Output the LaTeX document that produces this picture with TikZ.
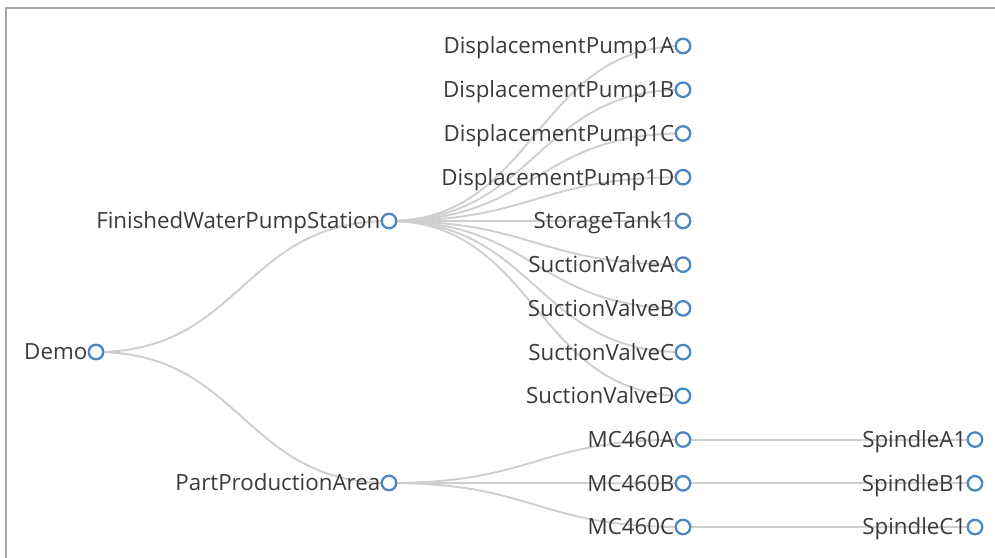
\documentclass[tikz,border=0pt]{standalone}
\usepackage{fontspec}
\setmainfont{Open Sans}
\usetikzlibrary{calc, backgrounds}
\definecolor{nodeBlue}{HTML}{4A86C0}
\definecolor{linkGray}{HTML}{CFCFCF}
\definecolor{textGray}{HTML}{3A3A3A}
\definecolor{frameGray}{HTML}{A8A8A8}

\tikzset{
  asset/.style={circle, draw=nodeBlue, fill=white, line width=1.3pt,
    minimum size=0.29cm, inner sep=0pt},
  assetlabel/.style={text=textGray, font=\fontsize{12.7}{15}\selectfont,
    inner sep=0.5pt, text height=9pt, text depth=0pt},
  branchline/.style={linkGray, line width=1.1pt},
  every label/.style={label distance=-0.5pt}
}
\newcommand{\branch}[2]{%
  \draw[branchline] let \p1=(#1), \p2=(#2) in
    (\p1) .. controls ({(\x1+\x2)/2},\y1) and ({(\x1+\x2)/2},\y2) .. (\p2);}

\begin{document}
\begin{tikzpicture}[x=0.02cm, y=-0.02cm]
    \useasboundingbox (0,0) rectangle (995,558);

    \node[asset, label={[assetlabel]left:Demo}] (demo) at (96,352) {};
    \node[asset, label={[assetlabel]left:FinishedWaterPumpStation}] (fwps) at (389,221) {};
    \node[asset, label={[assetlabel]left:PartProductionArea}] (ppa) at (389,483) {};

    \foreach \c/\t [count=\i from 0] in {pumpA/DisplacementPump1A, pumpB/DisplacementPump1B,
        pumpC/DisplacementPump1C, pumpD/DisplacementPump1D, tank/StorageTank1,
        valveA/SuctionValveA, valveB/SuctionValveB, valveC/SuctionValveC, valveD/SuctionValveD,
        mcA/MC460A, mcB/MC460B, mcC/MC460C}
        \node[asset, label={[assetlabel]left:\t}] (\c) at (683,{46+43.73*\i}) {};

    \foreach \c/\t [count=\i from 9] in {spA/SpindleA1, spB/SpindleB1, spC/SpindleC1}
        \node[asset, label={[assetlabel]left:\t}] (\c) at (975,{46+43.73*\i}) {};

    \begin{scope}[on background layer]
        \draw[frameGray, line width=0.04cm] (6,558) -- (6,8) -- (995,8);

        \branch{demo}{fwps}
        \branch{demo}{ppa}
        \foreach \c in {pumpA, pumpB, pumpC, pumpD, tank, valveA, valveB, valveC, valveD}
            {\branch{fwps}{\c}}
        \foreach \c in {mcA, mcB, mcC}
            {\branch{ppa}{\c}}
        \branch{mcA}{spA}
        \branch{mcB}{spB}
        \branch{mcC}{spC}
    \end{scope}
\end{tikzpicture}
\end{document}
